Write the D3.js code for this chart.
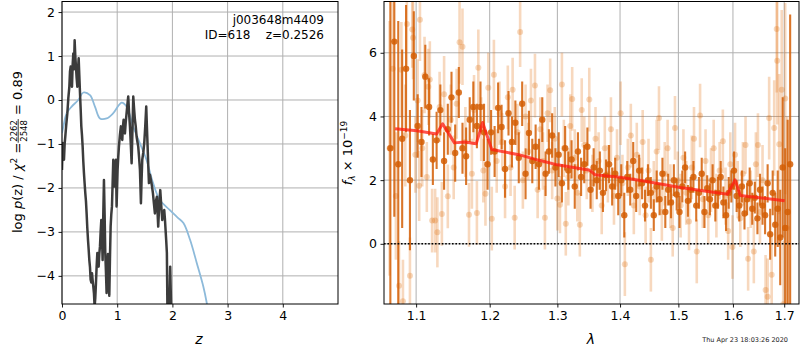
<!DOCTYPE html>
<html>
<head>
<meta charset="utf-8">
<script src="https://cdn.jsdelivr.net/npm/d3@7"></script>
<style>
body { margin: 0; background: #fff; }
svg { font-family: "DejaVu Sans", sans-serif; }
</style>
</head>
<body>
<svg width="800" height="350"></svg>
<script>
// ---- p(z) panel data
var zGrid = [0.000,0.012,0.024,0.036,0.048,0.060,0.078,0.097,0.115,0.133,
  0.145,0.157,0.169,0.181,0.193,0.205,0.217,0.229,0.241,0.253,
  0.265,0.278,0.290,0.302,0.314,0.326,0.338,0.350,0.362,0.374,
  0.386,0.398,0.410,0.422,0.434,0.446,0.458,0.471,0.483,0.495,
  0.507,0.519,0.531,0.543,0.555,0.567,0.579,0.591,0.603,0.615,
  0.627,0.640,0.652,0.664,0.676,0.688,0.700,0.712,0.724,0.736,
  0.748,0.760,0.772,0.784,0.796,0.808,0.820,0.833,0.845,0.857,
  0.869,0.881,0.893,0.905,0.917,0.929,0.941,0.953,0.965,0.977,
  0.989,1.007,1.019,1.031,1.049,1.067,1.080,1.092,1.104,1.116,
  1.128,1.140,1.155,1.170,1.185,1.200,1.215,1.231,1.246,1.261,
  1.276,1.291,1.306,1.321,1.336,1.351,1.366,1.381,1.396,1.412,
  1.430,1.442,1.454,1.472,1.490,1.508,1.526,1.538,1.551,1.563,
  1.575,1.593,1.611,1.629,1.647,1.665,1.683,1.701,1.719,1.731,
  1.743,1.761,1.780,1.798,1.816,1.834,1.852,1.864,1.876,1.888,
  1.900,1.912,1.936,1.960,1.985,2.010];
var logPz = [-1.59,-0.98,-1.2,-1.36,-1.0,-0.83,-0.55,-0.3,0.05,0.3,
  0.65,0.76,0.45,0.3,0.8,1.06,0.7,1.36,1.0,0.76,
  0.5,0.3,0.7,0.95,0.55,0.16,-0.2,-0.6,-0.8,-1.06,
  -1.4,-1.67,-1.9,-2.12,-2.3,-2.58,-2.9,-3.18,-3.4,-3.64,
  -3.8,-4.09,-4.15,-3.94,-4.1,-4.24,-4.4,-4.7,-4.5,-4.17,
  -3.8,-3.48,-3.6,-3.79,-3.5,-3.33,-3.0,-2.73,-3.1,-3.64,
  -2.6,-1.82,-2.6,-3.48,-3.9,-4.39,-3.9,-3.5,-4.0,-4.45,
  -3.6,-2.88,-2.6,-2.42,-1.9,-1.36,-1.6,-1.97,-1.5,-1.36,
  -2.42,-1.59,-1.3,-1.06,-0.8,-0.6,-0.75,-0.91,-0.6,-0.45,
  -0.65,-0.76,-0.5,-0.3,-0.1,0.08,-0.3,-0.6,-1.0,-1.44,
  -0.7,0.08,-0.2,-0.45,-0.6,-0.83,-0.95,-1.06,-1.3,-1.59,
  -2.35,-1.8,-1.36,-1.2,-0.98,-0.6,-0.15,-0.6,-1.06,-1.5,
  -1.89,-1.7,-1.82,-1.95,-2.12,-2.35,-2.58,-2.3,-2.2,-2.55,
  -2.88,-2.4,-2.05,-2.4,-2.73,-2.6,-2.5,-2.7,-2.95,-3.2,
  -3.48,-5.0,-5.2,-3.79,-5.2,-6.0];

var zChi = [0.0,0.024,0.085,0.175,0.295,0.386,0.507,0.597,0.688,0.809,0.929,1.08,1.17,1.29,1.41,1.53,1.65,1.77,1.95,2.1,2.2,2.32,2.44,2.56,2.62,2.68];
var chiCurve = [-0.75,-0.61,-0.3,-0.15,0.0,0.17,0.11,-0.15,-0.42,-0.42,-0.3,-0.06,-0.15,-0.61,-0.98,-1.36,-1.89,-2.27,-2.5,-2.68,-2.8,-3.18,-3.7,-4.24,-4.6,-5.1];

var zTicks = [0, 1, 2, 3, 4];
var pzTicks = [-4, -3, -2, -1, 0, 1, 2];

// ---- spectrum panel data
var darkWave = [1.067,1.072,1.077,1.082,1.087,1.092,1.097,1.102,1.107,1.112,
  1.117,1.122,1.127,1.132,1.137,1.142,1.147,1.152,1.157,1.162,
  1.167,1.172,1.177,1.182,1.187,1.192,1.197,1.202,1.207,1.212,
  1.217,1.222,1.227,1.232,1.237,1.242,1.247,1.252,1.257,1.262,
  1.267,1.272,1.277,1.282,1.287,1.292,1.297,1.302,1.307,1.312,
  1.317,1.322,1.327,1.332,1.337,1.342,1.347,1.352,1.357,1.362,
  1.367,1.372,1.377,1.382,1.387,1.392,1.397,1.402,1.407,1.412,
  1.417,1.422,1.427,1.432,1.437,1.442,1.447,1.452,1.457,1.462,
  1.467,1.472,1.477,1.482,1.487,1.492,1.497,1.502,1.507,1.512,
  1.517,1.522,1.527,1.532,1.537,1.542,1.547,1.552,1.557,1.562,
  1.567,1.572,1.577,1.582,1.587,1.592,1.597,1.602,1.607,1.612,
  1.617,1.622,1.627,1.632,1.637,1.642,1.647,1.652,1.657,1.662,
  1.667,1.672,1.677,1.682,1.687,1.692,1.697,1.702,1.707,1.712];
var darkFlux = [3.0,6.35,2.5,3.3,5.5,2.0,5.9,3.7,3.2,5.25,
  4.3,2.65,3.25,4.2,2.6,3.6,4.6,2.85,4.75,3.0,
  2.75,3.9,4.3,3.7,4.3,3.5,2.5,3.5,2.9,4.27,
  3.67,2.35,4.1,3.2,3.8,2.7,4.4,2.2,3.48,2.6,
  3.05,2.5,3.9,2.2,2.9,3.4,2.4,2.8,1.9,3.0,
  2.3,2.65,1.8,2.9,2.1,2.5,3.05,1.7,2.4,2.0,
  2.3,1.6,2.15,2.5,1.8,2.2,1.5,2.0,0.9,2.1,
  1.7,2.6,1.5,2.3,1.9,1.2,2.0,1.6,0.9,1.8,
  1.4,2.2,1.0,1.7,1.3,2.0,1.55,1.0,1.8,2.4,
  1.35,1.7,2.1,1.2,1.6,2.2,1.0,1.75,1.4,2.0,
  1.2,1.6,2.1,1.3,0.9,1.6,1.8,2.3,1.5,1.2,
  1.8,0.95,1.4,1.9,1.1,1.45,0.8,1.7,1.2,0.9,
  1.9,0.3,1.6,0.6,1.1,0.2,2.4,0.5,1.0,2.5];
var darkErr = [9.0,5.5,4.5,2.8,2.0,2.2,1.4,1.0,1.1,1.0,
  0.9,0.8,0.9,0.8,0.9,0.8,0.8,0.9,0.8,0.8,
  0.9,0.7,0.8,0.7,0.8,0.9,0.8,0.7,0.8,0.8,
  0.7,0.9,0.7,0.8,0.7,0.8,0.7,0.8,0.7,0.7,
  0.7,0.8,0.7,0.7,0.7,0.7,0.6,0.7,0.6,0.7,
  0.6,0.6,0.7,0.6,0.6,0.6,0.6,0.6,0.6,0.6,
  0.6,0.6,0.5,0.6,0.6,0.5,0.6,0.5,0.7,0.5,
  0.5,0.6,0.5,0.5,0.5,0.5,0.5,0.5,0.5,0.5,
  0.5,0.5,0.5,0.5,0.5,0.5,0.5,0.5,0.5,0.5,
  0.5,0.4,0.5,0.5,0.5,0.5,0.5,0.4,0.5,0.5,
  0.5,0.5,0.5,0.5,0.5,0.5,0.5,0.6,0.5,0.5,
  0.5,0.5,0.5,0.5,0.5,0.5,0.5,0.5,0.6,0.6,
  0.6,0.8,0.7,1.0,1.2,1.5,2.2,2.5,2.9,4.7];

var lightWave = [1.066,1.070,1.074,1.078,1.081,1.083,1.086,1.088,1.092,1.095,
  1.096,1.099,1.102,1.104,1.105,1.108,1.111,1.114,1.116,1.118,
  1.121,1.125,1.128,1.131,1.134,1.137,1.142,1.146,1.150,1.154,
  1.158,1.162,1.166,1.171,1.175,1.178,1.182,1.184,1.188,1.191,
  1.194,1.198,1.203,1.206,1.210,1.214,1.218,1.222,1.226,1.230,
  1.233,1.236,1.240,1.244,1.248,1.252,1.256,1.260,1.266,1.270,
  1.274,1.278,1.281,1.285,1.289,1.292,1.296,1.300,1.304,1.307,
  1.310,1.313,1.317,1.320,1.323,1.327,1.331,1.335,1.338,1.342,
  1.346,1.350,1.355,1.360,1.365,1.370,1.375,1.380,1.385,1.390,
  1.395,1.401,1.404,1.408,1.413,1.418,1.423,1.428,1.433,1.438,
  1.443,1.448,1.452,1.457,1.462,1.466,1.471,1.476,1.481,1.486,
  1.490,1.494,1.499,1.504,1.509,1.514,1.519,1.524,1.528,1.533,
  1.539,1.544,1.549,1.554,1.559,1.564,1.569,1.575,1.581,1.586,
  1.591,1.595,1.599,1.604,1.609,1.614,1.619,1.624,1.629,1.634,
  1.640,1.644,1.648,1.652,1.657,1.663,1.667,1.670,1.675,1.680,
  1.685,1.686,1.690,1.695,1.698,1.702,1.706];
var lightFlux = [3.0,5.5,1.5,-1.32,5.47,-1.8,3.4,6.9,-1.0,6.73,
  6.47,2.8,4.5,1.82,7.04,3.0,5.3,2.1,4.93,5.16,
  0.73,0.73,0.36,4.3,0.94,4.7,1.49,3.9,2.4,4.4,
  6.33,6.19,3.2,0.91,2.2,4.2,0.97,5.53,3.6,2.3,
  1.57,4.9,0.79,5.31,2.6,4.1,3.2,1.8,4.6,2.4,
  4.84,0.82,3.5,6.65,2.0,4.0,2.9,4.5,4.97,1.7,
  3.6,2.6,0.82,4.1,4.82,2.3,3.3,1.42,1.23,5.0,
  3.0,0.63,2.1,3.7,4.55,2.7,1.6,0.6,4.2,3.1,
  2.3,4.53,1.9,3.3,2.6,1.2,3.0,2.2,3.6,1.5,
  2.7,4.1,1.9,-0.64,2.4,3.4,1.2,2.8,1.8,3.2,
  0.9,2.3,-0.5,1.7,2.9,3.95,1.0,2.2,3.0,1.5,
  0.5,3.64,2.0,1.2,2.7,1.6,0.7,2.4,3.3,-0.24,
  4.03,1.4,2.6,0.9,2.0,3.0,1.2,2.3,3.22,1.5,
  0.4,2.5,-0.1,2.8,1.7,0.8,2.2,3.1,-0.47,1.4,
  -0.24,2.5,3.1,1.0,2.0,-1.45,-1.66,3.95,-0.97,3.64,
  6.75,5.75,3.13,4.84,-1.9,4.56,0.5];
var lightErr = [4.0,2.5,2.0,1.4,1.5,1.3,1.6,1.3,1.2,1.2,
  1.3,1.2,1.3,1.1,1.3,1.2,1.2,1.1,1.2,1.2,
  1.0,1.0,1.1,1.1,1.0,1.2,1.0,1.1,1.0,1.1,
  1.3,1.2,1.1,1.0,1.1,1.1,1.0,1.2,1.0,1.0,
  1.0,1.1,1.0,1.1,1.0,1.0,0.9,1.0,1.0,0.9,
  1.0,1.0,0.9,1.1,0.9,1.0,0.9,1.0,1.0,0.9,
  1.0,0.9,1.0,0.9,1.0,0.9,1.0,1.0,0.9,1.0,
  0.9,1.0,0.9,1.0,1.0,0.9,0.9,1.0,1.0,0.9,
  0.9,1.0,0.9,1.0,0.9,0.9,1.0,0.9,1.0,0.9,
  0.9,1.0,0.9,1.0,0.9,1.0,0.9,1.0,0.9,1.0,
  0.9,1.0,1.0,0.9,1.0,1.0,0.9,1.0,0.9,1.0,
  0.9,1.0,0.9,1.0,0.9,1.0,0.9,1.0,1.0,1.0,
  1.0,0.9,1.0,0.9,1.0,0.9,1.0,0.9,1.0,0.9,
  0.9,1.0,1.0,1.0,0.9,0.9,1.0,0.9,1.0,0.9,
  1.0,1.0,1.0,1.0,1.1,1.1,1.2,1.3,1.3,1.5,
  2.0,2.0,2.2,2.5,2.0,3.0,3.5];

var modelWave = [1.073,1.101,1.127,1.135,1.151,1.165,1.181,1.190,1.203,1.242,1.271,1.300,1.351,1.359,1.400,1.445,1.503,1.590,1.604,1.614,1.701];
var modelFlux = [3.61,3.55,3.45,3.77,3.17,3.2,3.14,3.81,2.96,2.8,2.63,2.48,2.31,2.17,2.09,1.96,1.77,1.56,2.01,1.52,1.35];

var lamTicks = [1.1, 1.2, 1.3, 1.4, 1.5, 1.6, 1.7];
var fluxTicks = [0, 2, 4, 6];

// ---------------------------------------------------------------
var svg = d3.select("svg");
svg.append("rect").attr("width", 800).attr("height", 350).attr("fill", "#fff");

var FONT = "DejaVu Sans";
var TICKFS = "12.5px";
var gridCol = "#b0b0b0";

function styleAxis(g) {
  g.attr("font-family", FONT).attr("font-size", TICKFS);
  g.select(".domain").remove();
  g.selectAll(".tick line").attr("stroke", "#000").attr("stroke-width", 0.9);
  g.selectAll(".tick text").attr("fill", "#000");
}

// ---- left panel: p(z)
var L = {x0: 62, x1: 338, y0: 1.5, y1: 304};
var xz = d3.scaleLinear().domain([0, 5]).range([L.x0, L.x1]);
var ypz = d3.scaleLinear().domain([-4.64, 2.24]).range([L.y1, L.y0]);

svg.append("clipPath").attr("id", "clipL").append("rect")
  .attr("x", L.x0).attr("y", L.y0).attr("width", L.x1 - L.x0).attr("height", L.y1 - L.y0);

var gl = svg.append("g");
gl.selectAll("line.gx").data(zTicks).enter().append("line")
  .attr("x1", d => xz(d)).attr("x2", d => xz(d)).attr("y1", L.y0).attr("y2", L.y1)
  .attr("stroke", gridCol).attr("stroke-width", 1);
gl.selectAll("line.gy").data(pzTicks).enter().append("line")
  .attr("y1", d => ypz(d)).attr("y2", d => ypz(d)).attr("x1", L.x0).attr("x2", L.x1)
  .attr("stroke", gridCol).attr("stroke-width", 1);

var plotL = svg.append("g").attr("clip-path", "url(#clipL)");
plotL.append("path")
  .datum(zChi.map((z, i) => [z, chiCurve[i]]))
  .attr("d", d3.line().x(d => xz(d[0])).y(d => ypz(d[1])).curve(d3.curveCatmullRom))
  .attr("fill", "none").attr("stroke", "#8dbada").attr("stroke-width", 1.8);
plotL.append("path")
  .datum(zGrid.map((z, i) => [z, logPz[i]]))
  .attr("d", d3.line().x(d => xz(d[0])).y(d => ypz(d[1])))
  .attr("fill", "none").attr("stroke", "#3c3c3c").attr("stroke-width", 2.5)
  .attr("stroke-linejoin", "round");

svg.append("rect").attr("x", L.x0).attr("y", L.y0).attr("width", L.x1 - L.x0).attr("height", L.y1 - L.y0)
  .attr("fill", "none").attr("stroke", "#000").attr("stroke-width", 1);

svg.append("g").attr("transform", "translate(0," + L.y1 + ")")
  .call(d3.axisBottom(xz).tickValues(zTicks).tickSize(3.5).tickPadding(3.5).tickFormat(d3.format("d")))
  .call(styleAxis);
svg.append("g").attr("transform", "translate(" + L.x0 + ",0)")
  .call(d3.axisLeft(ypz).tickValues(pzTicks).tickSize(3.5).tickPadding(3.5).tickFormat(d3.format("d")))
  .call(styleAxis);

// label text in corner
svg.append("text").attr("x", 324).attr("y", 24).attr("text-anchor", "end")
  .attr("font-size", "12px").text("j003648m4409");
svg.append("text").attr("x", 324).attr("y", 38.5).attr("text-anchor", "end")
  .attr("font-size", "12px").attr("xml:space", "preserve").text("ID=618    z=0.2526");

svg.append("text").attr("x", 199).attr("y", 344).attr("text-anchor", "middle")
  .attr("font-size", "14px").attr("font-style", "italic").text("z");

// left y label with fraction
var yl = svg.append("g").attr("transform", "translate(22,152) rotate(-90)").attr("font-size", "13px");
var t1 = yl.append("text").attr("x", 0).attr("y", 0);
t1.append("tspan").text("log ");
t1.append("tspan").attr("font-style", "italic").text("p");
t1.append("tspan").text("(z) / ");
t1.append("tspan").attr("font-style", "italic").text("χ");
t1.append("tspan").attr("font-size", "9px").attr("dy", -5).text("2");
t1.append("tspan").attr("dy", 5).text(" = ");
var w1 = t1.node().getComputedTextLength();
var num = yl.append("text").attr("y", -5.5).attr("font-size", "8.5px").attr("text-anchor", "middle").text("2262");
var den = yl.append("text").attr("y", 4.5).attr("font-size", "8.5px").attr("text-anchor", "middle").text("2548");
var wf = Math.max(num.node().getComputedTextLength(), den.node().getComputedTextLength()) + 2;
num.attr("x", w1 + wf / 2);
den.attr("x", w1 + wf / 2);
yl.append("line").attr("x1", w1).attr("x2", w1 + wf).attr("y1", -3.8).attr("y2", -3.8)
  .attr("stroke", "#000").attr("stroke-width", 0.8);
var t3 = yl.append("text").attr("x", w1 + wf).attr("y", 0).attr("xml:space", "preserve").text(" = 0.89");
var wTot = w1 + wf + t3.node().getComputedTextLength();
yl.selectAll("text, line").attr("transform", "translate(" + (-wTot / 2) + ",0)");

// ---- right panel: spectrum
var R = {x0: 384, x1: 799, y0: 1.5, y1: 304};
var xl = d3.scaleLog().domain([1.059, 1.730]).range([R.x0, R.x1]);
var yf = d3.scaleLinear().domain([-1.89, 7.61]).range([R.y1, R.y0]);

svg.append("clipPath").attr("id", "clipR").append("rect")
  .attr("x", R.x0).attr("y", R.y0).attr("width", R.x1 - R.x0).attr("height", R.y1 - R.y0);

var gr = svg.append("g");
gr.selectAll("line.gx").data(lamTicks).enter().append("line")
  .attr("x1", d => xl(d)).attr("x2", d => xl(d)).attr("y1", R.y0).attr("y2", R.y1)
  .attr("stroke", gridCol).attr("stroke-width", 1);
gr.selectAll("line.gy").data(fluxTicks).enter().append("line")
  .attr("y1", d => yf(d)).attr("y2", d => yf(d)).attr("x1", R.x0).attr("x2", R.x1)
  .attr("stroke", gridCol).attr("stroke-width", 1);

var plotR = svg.append("g").attr("clip-path", "url(#clipR)");
var orange = "#e0700f";
var darkOrange = "#d35e05";
var light = lightWave.map((w, i) => ({w: w, f: lightFlux[i], e: lightErr[i]}));
var dark = darkWave.map((w, i) => ({w: w, f: darkFlux[i], e: darkErr[i]}));

plotR.selectAll("line.le").data(light).enter().append("line")
  .attr("x1", d => xl(d.w)).attr("x2", d => xl(d.w))
  .attr("y1", d => yf(d.f - d.e)).attr("y2", d => yf(d.f + d.e))
  .attr("stroke", orange).attr("stroke-opacity", 0.27).attr("stroke-width", 2.6);
plotR.selectAll("circle.lp").data(light).enter().append("circle")
  .attr("cx", d => xl(d.w)).attr("cy", d => yf(d.f)).attr("r", 3)
  .attr("fill", orange).attr("fill-opacity", 0.28);

plotR.selectAll("line.de").data(dark).enter().append("line")
  .attr("x1", d => xl(d.w)).attr("x2", d => xl(d.w))
  .attr("y1", d => yf(d.f - d.e)).attr("y2", d => yf(d.f + d.e))
  .attr("stroke", darkOrange).attr("stroke-opacity", 0.85).attr("stroke-width", 2.1);
plotR.selectAll("circle.dp").data(dark).enter().append("circle")
  .attr("cx", d => xl(d.w)).attr("cy", d => yf(d.f)).attr("r", 3.2)
  .attr("fill", darkOrange).attr("fill-opacity", 0.85);

plotR.append("path")
  .datum(modelWave.map((w, i) => [w, modelFlux[i]]))
  .attr("d", d3.line().x(d => xl(d[0])).y(d => yf(d[1])))
  .attr("fill", "none").attr("stroke", "#ff1a10").attr("stroke-opacity", 0.75)
  .attr("stroke-width", 3).attr("stroke-linejoin", "round");

plotR.append("line").attr("x1", R.x0).attr("x2", R.x1).attr("y1", yf(0)).attr("y2", yf(0))
  .attr("stroke", "#000").attr("stroke-width", 1.6).attr("stroke-dasharray", "1.6,1.8");

svg.append("rect").attr("x", R.x0).attr("y", R.y0).attr("width", R.x1 - R.x0).attr("height", R.y1 - R.y0)
  .attr("fill", "none").attr("stroke", "#000").attr("stroke-width", 1);

svg.append("g").attr("transform", "translate(0," + R.y1 + ")")
  .call(d3.axisBottom(xl).tickValues(lamTicks).tickSize(3.5).tickPadding(3.5).tickFormat(d3.format(".1f")))
  .call(styleAxis);
svg.append("g").attr("transform", "translate(" + R.x0 + ",0)")
  .call(d3.axisLeft(yf).tickValues(fluxTicks).tickSize(3.5).tickPadding(3.5).tickFormat(d3.format("d")))
  .call(styleAxis);

svg.append("text").attr("x", 591).attr("y", 344).attr("text-anchor", "middle")
  .attr("font-size", "14px").attr("font-style", "italic").text("λ");

var yr = svg.append("g").attr("transform", "translate(352,153) rotate(-90)").attr("font-size", "13px");
var tr = yr.append("text").attr("text-anchor", "middle");
tr.append("tspan").attr("font-style", "italic").text("f");
tr.append("tspan").attr("font-style", "italic").attr("font-size", "9px").attr("dy", 3).text("λ");
tr.append("tspan").attr("dy", -3).text(" × 10");
tr.append("tspan").attr("font-size", "9px").attr("dy", -5).text("−19");

svg.append("text").attr("x", 788).attr("y", 342).attr("text-anchor", "end")
  .attr("font-size", "6.5px").attr("fill", "#222").text("Thu Apr 23 18:03:26 2020");
</script>
</body>
</html>
